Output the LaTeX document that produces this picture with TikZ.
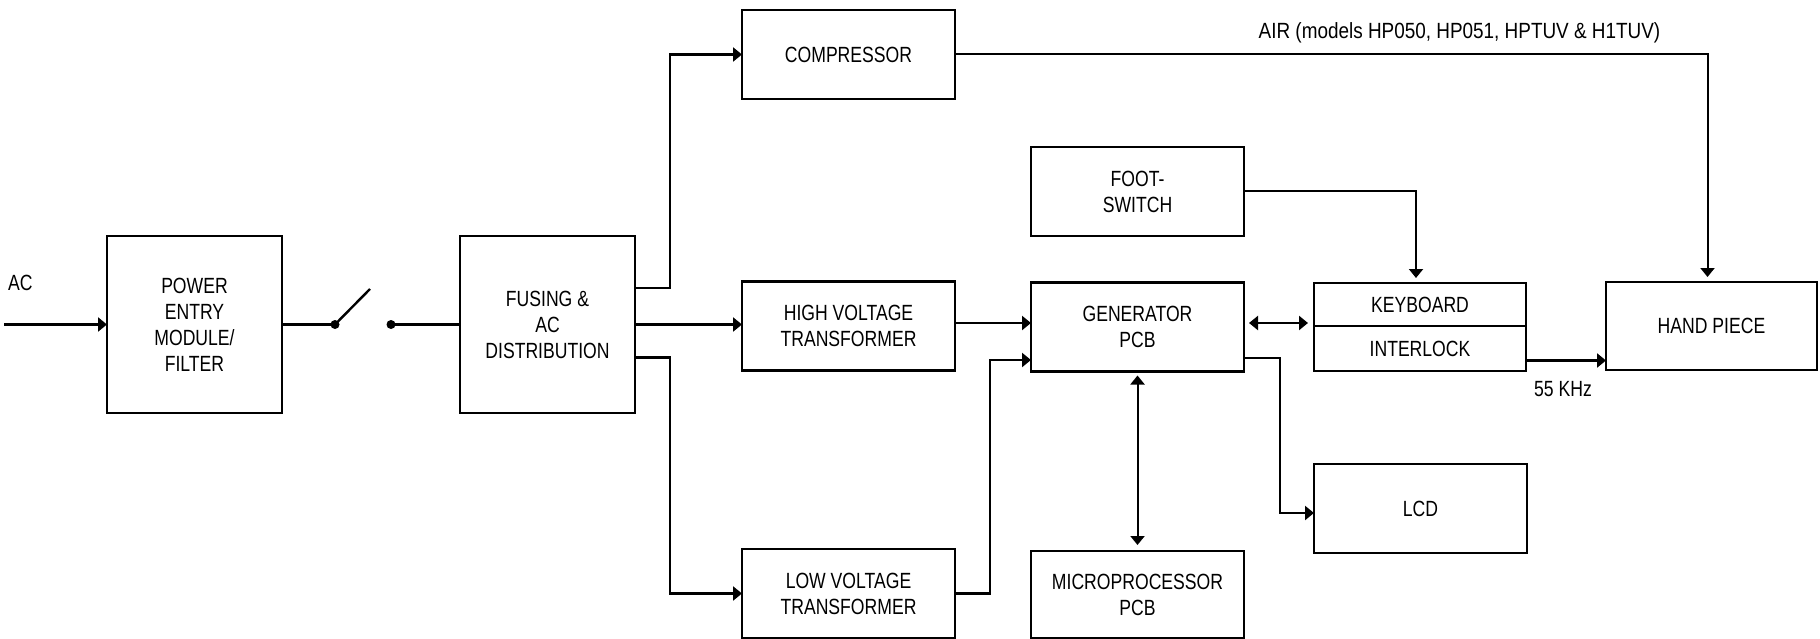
\documentclass[tikz,border=0pt]{standalone}
\usepackage{fontspec}
\setmainfont[FakeStretch=0.80]{Liberation Sans}
\newfontfamily\airfont[FakeStretch=0.86]{Liberation Sans}
\usetikzlibrary{arrows.meta}
\begin{document}
\begin{tikzpicture}[x=1pt,y=-1pt,
  txt/.style={font=\fontsize{22}{26}\selectfont},
  box/.style={draw, line width=2.6pt, align=center, txt, inner sep=0pt, outer sep=0pt},
  bigbox/.style={box, minimum width=175pt, minimum height=177pt},
  stdbox/.style={box, minimum width=213pt, minimum height=89pt},
  ln/.style={line width=2.4pt},
  thinln/.style={line width=2pt},
  tip/.tip={Triangle[length=9pt,width=14pt]},
  arr/.style={ln, -tip},
  dbl/.style={ln, tip-tip},
  lbl/.style={txt, inner sep=0pt}]
\useasboundingbox (0,0) rectangle (1820,639);

% boxes
\node[bigbox] (PEM) at (194.5,324.5) {POWER\\ENTRY\\MODULE/\\FILTER};
\node[bigbox] (FUSE) at (547.5,324.5) {FUSING \&\\AC\\DISTRIBUTION};
\node[stdbox] (COMP) at (848.5,54.5) {COMPRESSOR};
\node[stdbox] (HV) at (848.5,326) {HIGH VOLTAGE\\TRANSFORMER};
\node[stdbox] (LV) at (848.5,593.5) {LOW VOLTAGE\\TRANSFORMER};
\node[stdbox] (FOOT) at (1137.5,191.5) {FOOT-\\SWITCH};
\node[stdbox] (GEN) at (1137.5,327) {GENERATOR\\PCB};
\node[stdbox, minimum height=87pt] (MICRO) at (1137.5,594.5) {MICROPROCESSOR\\PCB};
\node[box, minimum width=212pt, minimum height=43pt] (KB) at (1420,304.5) {KEYBOARD};
\node[box, minimum width=212pt, minimum height=45pt] (IL) at (1420,348.5) {INTERLOCK};
\node[stdbox] (LCD) at (1420.5,508.5) {LCD};
\node[box, minimum width=211pt, minimum height=88pt] (HAND) at (1711.5,326) {HAND PIECE};

% labels
\node[lbl, anchor=west] (ac) at (8,283) {AC};
\node[lbl, font=\airfont\fontsize{22}{26}\selectfont] (air) at (1459.5,33) {AIR (models HP050, HP051, HPTUV \& H1TUV)};
\node[lbl] (khz) at (1563,389) {55 KHz};

% input and switch
\coordinate (acin) at (4,324.5);
\coordinate (sw1) at (335,324.5);
\coordinate (sw2) at (391,324.5);
\coordinate (swtip) at (370,289);
\draw[arr] (acin) -- (PEM.west);
\draw[ln] (PEM.east) -- (sw1);
\draw[ln] (sw1) -- (swtip);
\draw[ln] (sw2) -- (FUSE.west);
\fill (sw1) circle (4.5pt);
\fill (sw2) circle (4.5pt);

% distribution
\draw[arr] ([yshift=36.5pt]FUSE.east) -- ++(35,0) |- (COMP.west);
\draw[arr] (FUSE.east) -- (FUSE.east -| HV.west);
\draw[arr] ([yshift=-33pt]FUSE.east) -- ++(35,0) |- (LV.west);

% air
\draw[thinln, -tip, shorten >=5pt] (COMP.east) -| ([xshift=-4pt]HAND.north);

% generator inputs
\draw[arr] ([yshift=3pt]HV.east) -- ([yshift=3pt]HV.east -| GEN.west);
\draw[arr] (LV.east) -- ++(35,0) |- ([yshift=-33pt]GEN.west);

% generator links
\draw[dbl, shorten <=5pt, shorten >=6pt] ([yshift=3pt]GEN.east |- KB.south) -- ([yshift=3pt]KB.south west);
\draw[thinln, tip-tip, shorten <=4pt, shorten >=6pt] (GEN.south) -- (MICRO.north);
\draw[arr] ([yshift=-31pt]GEN.east) -- ++(36,0) |- ([yshift=-4.5pt]LCD.west);

% foot switch
\draw[thinln, -tip, shorten >=5pt] (FOOT.east) -| ([xshift=-4pt]KB.north);

% interlock to hand piece
\draw[arr] ([yshift=-12pt]IL.east) -- ([yshift=-12pt]IL.east -| HAND.west);
\end{tikzpicture}
\end{document}
